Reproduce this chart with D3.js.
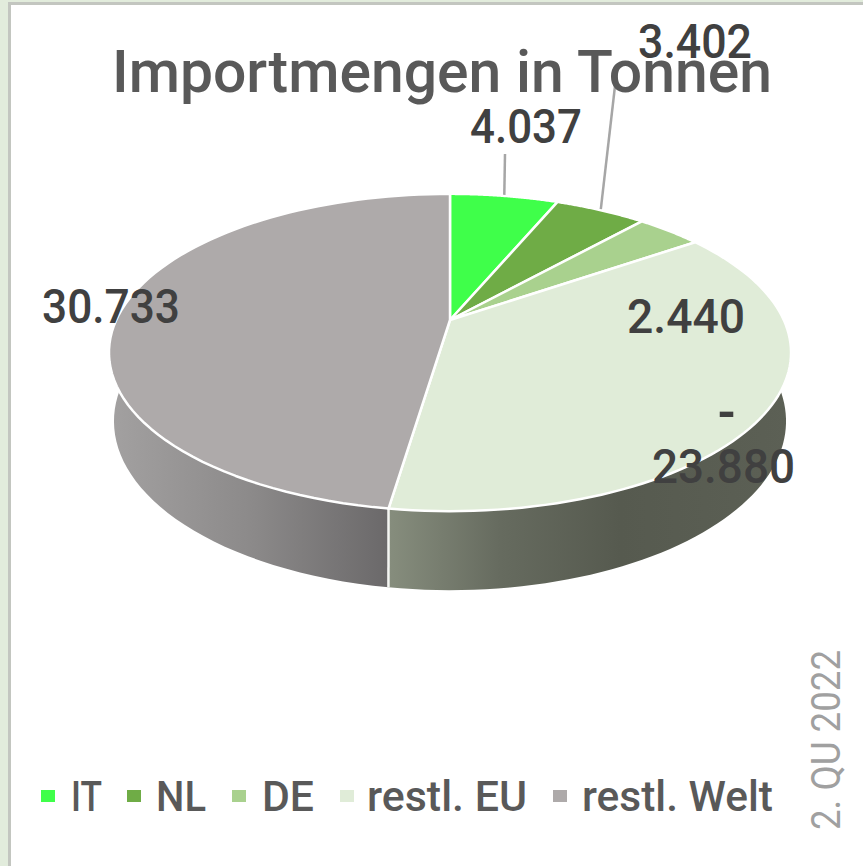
<!DOCTYPE html>
<html lang="de">
<head>
<meta charset="UTF-8">
<title>Importmengen in Tonnen</title>
<script src="https://d3js.org/d3.v7.min.js"></script>
<style>
    html, body { margin: 0; padding: 0; background: #fff; }
    svg { display: block; }
    text { font-family: Roboto, sans-serif; }
</style>
</head>
<body>
<script>
// chart values
var categories = ["IT", "NL", "DE", "restl. EU", "restl. Welt"];
var values = [4037, 3402, 2440, 23880, 30733];
var colors = ["#3fff4a", "#6fac46", "#a9d18e", "#e0ecd8", "#aeaaaa"];
var chartTitle = "Importmengen in Tonnen";
var sideNote = "2. QU 2022";

// layout only: [x, baseline, text width] of each data label
var labelPos = [[470, 143, 112], [638, 58, 114], [627, 333, 118], [652, 483, 143], [42, 323, 138]];
// [swatch x, text x, text width] of each legend entry
var legendPos = [[41, 71, 31], [127, 156, 50], [232, 262, 52], [340, 367, 160], [553, 582, 191]];

var width = 863, height = 866;

var svg = d3.select("body").append("svg")
    .attr("width", width)
    .attr("height", height);

// frame of the slide behind the chart
svg.append("rect").attr("width", width).attr("height", height).attr("fill", "#e2ecdc");
svg.append("rect").attr("x", 8).attr("y", 2).attr("width", width).attr("height", height)
    .attr("fill", "#c3c6c0");
svg.append("rect").attr("x", 11).attr("y", 5).attr("width", width).attr("height", height)
    .attr("fill", "#fff");

var german = d3.formatLocale({ decimal: ",", thousands: ".", grouping: [3], currency: ["", "€"] });
var fmt = german.format(",d");

var pie = d3.pie().sort(null)(values);

// perspective projection of the top and bottom disc of the pie
var cx = 450, topCy = 320;
function disc(cy, a, b, k) {
    return function (angle) {
        var X = Math.sin(angle), Y = Math.cos(angle);
        return [cx + a * X / (1 + k * Y), cy - b * Y / (1 + k * Y)];
    };
}
var topDisc = disc(topCy, 333.8, 152, 0.205);
var bottomDisc = disc(384, 327.8, 160.8, 0.22);

function rim(a0, a1) {
    return d3.range(0, 1.0001, 1 / 80).map(function (t) { return a0 + (a1 - a0) * t; });
}
var line = d3.line();

// side wall shading
var defs = svg.append("defs");
function wallGradient(id, stops) {
    var g = defs.append("linearGradient").attr("id", id)
        .attr("gradientUnits", "userSpaceOnUse")
        .attr("x1", stops[0][0]).attr("x2", stops[stops.length - 1][0])
        .attr("y1", 0).attr("y2", 0);
    var x = d3.scaleLinear().domain([stops[0][0], stops[stops.length - 1][0]]).range([0, 1]);
    stops.forEach(function (s) {
        g.append("stop").attr("offset", x(s[0])).attr("stop-color", s[1]);
    });
}
wallGradient("wallEU", [[390, "#868d7d"], [500, "#666b5f"], [620, "#565a4f"], [790, "#5c6055"]]);
wallGradient("wallWelt", [[108, "#a3a1a1"], [250, "#8c8a8a"], [388, "#6b696a"]]);

var wallFill = { 3: "url(#wallEU)", 4: "url(#wallWelt)" };

svg.append("g").selectAll("path")
    .data(pie.filter(function (d) { return wallFill[d.index]; }))
    .enter().append("path")
    .attr("d", function (d) {
        var r = rim(d.startAngle, d.endAngle);
        return line(r.map(topDisc).concat(r.slice().reverse().map(bottomDisc))) + "Z";
    })
    .attr("fill", function (d) { return wallFill[d.index]; });

// seam between the two visible walls
var seam = pie[3].endAngle;
svg.append("path")
    .attr("d", line([topDisc(seam), bottomDisc(seam)]))
    .attr("stroke", "#f4f5f2")
    .attr("stroke-width", 2.5)
    .attr("fill", "none");

// top face
svg.append("g").selectAll("path")
    .data(pie)
    .enter().append("path")
    .attr("d", function (d) {
        var pts = rim(d.startAngle, d.endAngle).map(topDisc);
        return line([[cx, topCy]].concat(pts)) + "Z";
    })
    .attr("fill", function (d) { return colors[d.index]; })
    .attr("stroke", "#fff")
    .attr("stroke-width", 2.5)
    .attr("stroke-linejoin", "round");

// leader lines of the two small slices, from the middle of the slice rim
function leader(i, x2, y2) {
    var d = pie[i];
    var p = topDisc((d.startAngle + d.endAngle) / 2);
    svg.append("line")
        .attr("x1", p[0]).attr("y1", p[1] - 1)
        .attr("x2", x2).attr("y2", y2)
        .attr("stroke", "#a6a6a6")
        .attr("stroke-width", 2.5);
}
leader(0, 505, 154);
leader(1, 615, 86);

// title
svg.append("text")
    .attr("x", 112).attr("y", 92)
    .attr("font-size", 59)
    .attr("font-weight", 500)
    .attr("fill", "#595959")
    .attr("textLength", 660)
    .attr("lengthAdjust", "spacingAndGlyphs")
    .text(chartTitle);

// data labels
svg.append("g").selectAll("text")
    .data(values)
    .enter().append("text")
    .attr("x", function (d, i) { return labelPos[i][0]; })
    .attr("y", function (d, i) { return labelPos[i][1]; })
    .attr("font-size", 49)
    .attr("font-weight", 500)
    .attr("fill", "#404040")
    .attr("textLength", function (d, i) { return labelPos[i][2]; })
    .attr("lengthAdjust", "spacingAndGlyphs")
    .text(function (d) { return fmt(d); });

// stray line-break dash above the restl. EU label, as in the original
svg.append("text")
    .attr("x", 717).attr("y", 429)
    .attr("font-size", 49)
    .attr("font-weight", 700)
    .attr("fill", "#404040")
    .text("-");

// legend
var legend = svg.append("g").selectAll("g")
    .data(categories)
    .enter().append("g");
legend.append("rect")
    .attr("x", function (d, i) { return legendPos[i][0]; })
    .attr("y", 790)
    .attr("width", 14)
    .attr("height", 12)
    .attr("fill", function (d, i) { return colors[i]; });
legend.append("text")
    .attr("x", function (d, i) { return legendPos[i][1]; })
    .attr("y", 811)
    .attr("font-size", 42)
    .attr("font-weight", 500)
    .attr("fill", "#595959")
    .attr("textLength", function (d, i) { return legendPos[i][2]; })
    .attr("lengthAdjust", "spacingAndGlyphs")
    .text(function (d) { return d; });

// rotated note on the right
svg.append("text")
    .attr("transform", "translate(840,830) rotate(-90)")
    .attr("font-size", 41)
    .attr("fill", "#a0a0a0")
    .attr("textLength", 180)
    .attr("lengthAdjust", "spacingAndGlyphs")
    .text(sideNote);
</script>
</body>
</html>
